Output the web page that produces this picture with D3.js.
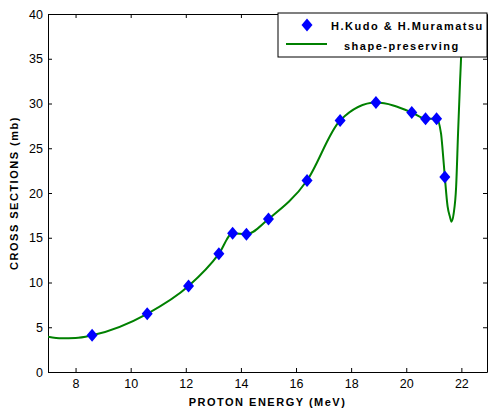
<!DOCTYPE html>
<html>
<head>
<meta charset="utf-8">
<script src="https://cdn.jsdelivr.net/npm/d3@7"></script>
<style>
  body { margin: 0; background: #fff; }
  svg { display: block; font-family: "Liberation Sans", Arial, sans-serif; }
  .tick text { font-size: 12.5px; fill: #000; }
  .title { font-size: 11px; font-weight: bold; letter-spacing: 1.5px; }
</style>
</head>
<body>
<svg width="488" height="413"></svg>
<script>
// measured points (H.Kudo & H.Muramatsu)
var energy = [8.6, 10.6, 12.1, 13.2, 13.7, 14.2, 15.0, 16.4, 17.6, 18.9, 20.2, 20.7, 21.1, 21.4];
var sigma  = [4.1, 6.5, 9.6, 13.2, 15.5, 15.4, 17.1, 21.4, 28.1, 30.1, 29.0, 28.3, 28.3, 21.8];

// shape-preserving curve (incl. extrapolated ends)
var curveE = [7.0, 7.5, 8.0, 8.6, 10.6, 12.1, 13.2, 13.7, 14.2, 15.0, 16.4, 17.6, 18.9, 20.2, 20.7, 21.1,
              21.26, 21.32, 21.4, 21.5, 21.59, 21.64, 21.72, 21.81, 21.88, 21.95, 21.99, 22.05];
var curveS = [3.95, 3.78, 3.8, 4.1, 6.5, 9.6, 13.2, 15.5, 15.4, 17.1, 21.4, 28.1, 30.1, 29.0, 28.3, 28.3,
              26.7, 24.8, 21.8, 18.5, 17.3, 16.8, 17.7, 20.7, 26.7, 32.3, 35.2, 42];

var xTicks = [8, 10, 12, 14, 16, 18, 20, 22];
var yTicks = [0, 5, 10, 15, 20, 25, 30, 35, 40];

var svg = d3.select("svg");
var pLeft = 48, pRight = 487, pTop = 14, pBottom = 372;

var x = d3.scaleLinear().domain([7, 22.93]).range([pLeft, pRight]);
var y = d3.scaleLinear().domain([0, 40]).range([pBottom, pTop]);

svg.append("clipPath").attr("id", "plotclip")
  .append("rect").attr("x", pLeft).attr("y", pTop).attr("width", pRight - pLeft).attr("height", pBottom - pTop);

function styleAxis(g) {
  g.selectAll("path, line").attr("stroke", "#000").attr("stroke-width", 1);
  g.selectAll("text").attr("font-family", null).attr("font-size", null);
}

svg.append("g").attr("transform", "translate(0," + pBottom + ")")
  .call(d3.axisBottom(x).tickValues(xTicks).tickSizeInner(-4).tickSizeOuter(0).tickPadding(7))
  .call(styleAxis);
svg.append("g").attr("transform", "translate(0," + pTop + ")")
  .call(d3.axisTop(x).tickValues(xTicks).tickSizeInner(-4).tickSizeOuter(0).tickFormat(""))
  .call(styleAxis);
svg.append("g").attr("transform", "translate(" + pLeft + ",0)")
  .call(d3.axisLeft(y).tickValues(yTicks).tickSizeInner(-4).tickSizeOuter(0).tickPadding(5))
  .call(styleAxis);
svg.append("g").attr("transform", "translate(" + pRight + ",0)")
  .call(d3.axisRight(y).tickValues(yTicks).tickSizeInner(-4).tickSizeOuter(0).tickFormat(""))
  .call(styleAxis);

// curve
var line = d3.line()
  .x(function(d, i) { return x(curveE[i]); })
  .y(function(d) { return y(d); })
  .curve(d3.curveMonotoneX);

svg.append("path")
  .datum(curveS)
  .attr("clip-path", "url(#plotclip)")
  .attr("d", line)
  .attr("fill", "none")
  .attr("stroke", "#008000")
  .attr("stroke-width", 2);

// diamonds
var diamond = "M0,-6.5L5.5,0L0,6.5L-5.5,0Z";
svg.append("g").selectAll("path")
  .data(sigma)
  .enter().append("path")
  .attr("d", diamond)
  .attr("transform", function(d, i) { return "translate(" + x(energy[i]) + "," + y(d) + ")"; })
  .attr("fill", "#0000ff");

// axis titles
svg.append("text").attr("class", "title")
  .attr("x", (pLeft + pRight) / 2).attr("y", 406)
  .attr("text-anchor", "middle")
  .text("PROTON ENERGY (MeV)");
svg.append("text").attr("class", "title")
  .attr("transform", "translate(18," + ((pTop + pBottom) / 2) + ") rotate(-90)")
  .attr("text-anchor", "middle")
  .text("CROSS SECTIONS (mb)");

// legend
var lg = svg.append("g");
lg.append("rect").attr("x", 278).attr("y", 13).attr("width", 209).attr("height", 44)
  .attr("fill", "#fff").attr("stroke", "#000").attr("stroke-width", 1);
lg.append("path").attr("d", diamond).attr("transform", "translate(307,25)").attr("fill", "#0000ff");
lg.append("line").attr("x1", 286).attr("x2", 327).attr("y1", 44).attr("y2", 44)
  .attr("stroke", "#008000").attr("stroke-width", 2);
lg.append("text").attr("class", "title").attr("x", 331).attr("y", 30).text("H.Kudo & H.Muramatsu");
lg.append("text").attr("class", "title").attr("x", 344).attr("y", 50).text("shape-preserving");
</script>
</body>
</html>
